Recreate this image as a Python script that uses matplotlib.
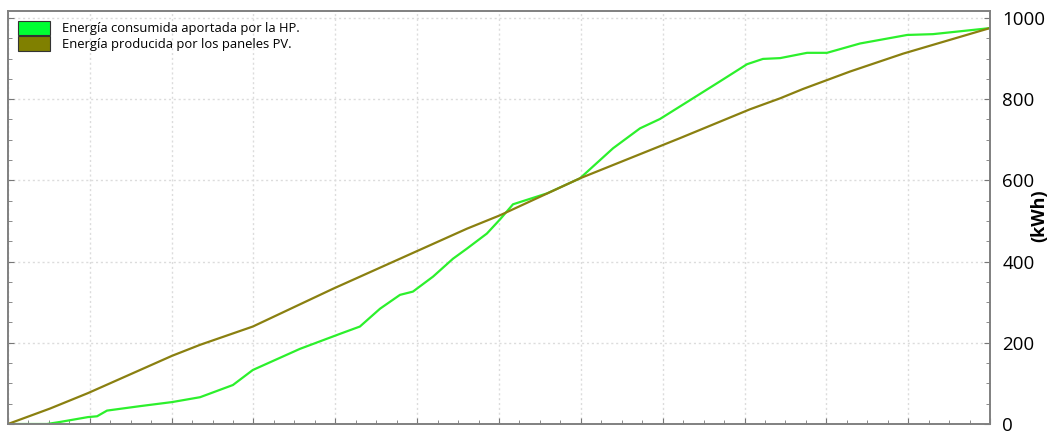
import numpy as np
import matplotlib
matplotlib.use("Agg")
import matplotlib.pyplot as plt
from matplotlib.patches import Patch
from matplotlib.ticker import MultipleLocator, AutoMinorLocator, NullFormatter

# Cumulative energy over the year (day of year, kWh)
pv_days = [0, 15.6, 29.7, 61, 71.4, 91, 120.8, 145.7, 170.6, 182.9, 212.6, 249.8,
           275.8, 287, 295.5, 313, 332.7, 365]
pv_kwh = [0, 38, 76, 168, 195, 240, 333, 407, 481, 514, 605, 704,
          775, 802, 825, 868, 912, 975]

hp_days = [0, 14.5, 19.3, 29.7, 33.1, 36.8, 49.1, 61, 71.4, 83.6, 91, 108.5, 123.4,
           130.8, 138.3, 145.7, 150.5, 158, 165.4, 170.6, 178, 182.9, 187.7, 200.4,
           212.6, 224.9, 234.9, 242.3, 254.6, 264.7, 274.7, 280.6, 287, 297, 304.4,
           316.7, 334.2, 343.8, 362.4, 365]
hp_kwh = [0, 0, 5, 17, 19, 33, 44, 54, 66, 96, 133, 185, 222,
          240, 284, 318, 326, 363, 407, 432, 469, 504, 541, 568,
          605, 679, 728, 751, 802, 844, 886, 899, 901, 914, 914,
          937, 958, 960, 973, 975]

labels = ["Energía consumida aportada por la HP.", "Energía producida por los paneles PV."]
hp_color = "#2cf02c"
pv_color = "#8a8010"

plt.rcParams["font.family"] = ["Open Sans", "DejaVu Sans"]

fig = plt.figure(figsize=(10.58, 4.33), dpi=100)
ax = fig.add_axes([8 / 1058, 1 - 424 / 433, 982 / 1058, 413 / 433])

ax.plot(hp_days, hp_kwh, color=hp_color, lw=1.6)
ax.plot(pv_days, pv_kwh, color=pv_color, lw=1.6)

ax.set_xlim(0, 365)
ax.set_ylim(0, 1017)

# month gridlines, no x labels
ax.xaxis.set_major_locator(MultipleLocator(365 / 12))
ax.xaxis.set_minor_locator(AutoMinorLocator(4))
ax.xaxis.set_major_formatter(NullFormatter())
ax.yaxis.set_major_locator(MultipleLocator(200))
ax.yaxis.set_minor_locator(AutoMinorLocator(4))
ax.grid(True, which="major", color="#dcdcdc", linestyle=(0, (1.5, 2)), lw=1)

ax.yaxis.tick_right()
ax.tick_params(axis="both", which="both", direction="in", colors="#777777",
               labelcolor="black", left=True, right=True)
ax.tick_params(axis="both", which="major", length=4)
ax.tick_params(axis="both", which="minor", length=3)
ax.tick_params(axis="y", labelsize=13.5, pad=9)

fig.text(1039 / 1058, 1 - 216 / 433, "(kWh)", rotation=90, ha="center", va="center",
         fontsize=13, fontweight="bold")

for s in ax.spines.values():
    s.set_color("#808080")
    s.set_linewidth(1.4)

handles = [Patch(facecolor="#00ff33", edgecolor="#333333", lw=0.8),
           Patch(facecolor="#808000", edgecolor="#333333", lw=0.8)]
ax.legend(handles, labels, loc="upper left", bbox_to_anchor=(0.0, 1.0), frameon=False,
          fontsize=9.4, handlelength=2.45, handleheight=1.35, labelspacing=0.05,
          handletextpad=0.9, borderpad=0.2, borderaxespad=0.55)

fig.savefig("out.png", dpi=100)
